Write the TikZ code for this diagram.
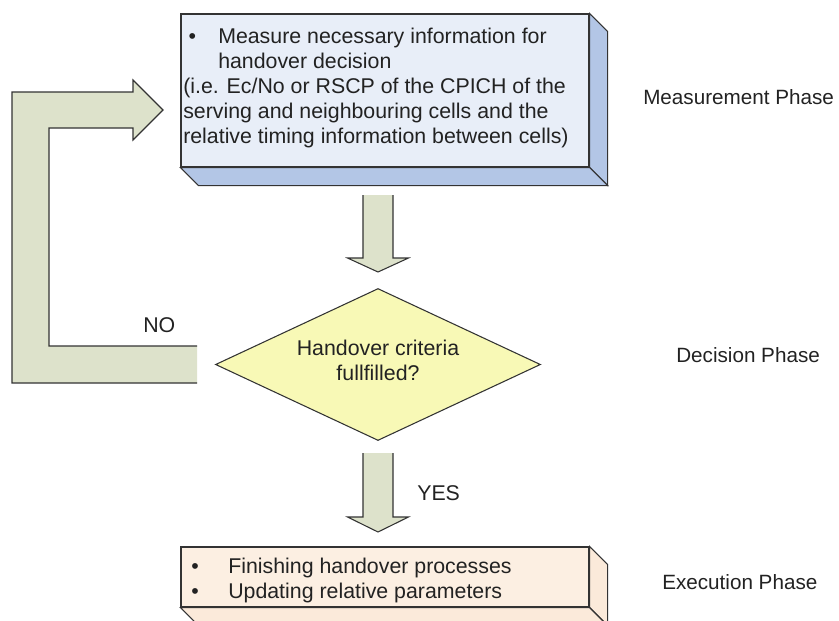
\documentclass[tikz,border=0pt]{standalone}
\usepackage{fontspec}
\setmainfont{Liberation Sans}
\usetikzlibrary{calc,shapes.geometric}

\definecolor{measfront}{HTML}{E8EEF8}
\definecolor{measside}{HTML}{B3C6E6}
\definecolor{execfront}{HTML}{FCEFE2}
\definecolor{execside}{HTML}{FBEADA}
\definecolor{decfill}{HTML}{F8F9B6}
\definecolor{flowfill}{HTML}{DDE2CB}
\definecolor{edgegray}{HTML}{333333}
\definecolor{txt}{HTML}{222222}

\tikzset{
  outline/.style={draw=edgegray, line width=0.8pt, line join=miter},
  frontface/.style={outline, inner sep=0pt, minimum width=306pt},
  flowarrow/.style={fill=flowfill},
  flowedge/.style={draw=edgegray, line width=0.8pt, line join=miter},
  bodytext/.style={text=txt, font=\fontsize{16}{18.75}\selectfont, inner sep=0pt},
  phasetext/.style={text=txt, font=\fontsize{15.5}{18}\selectfont, inner sep=0pt, anchor=base west},
}

% block arrow pointing down: centre x, top y, head base y, tip y
\newcommand\downflow[4]{%
  \fill[flowarrow] (#1-15,#2) -- (#1+15,#2) -- (#1+15,#3) -- (#1+30.5,#3)
    -- (#1,#4) -- (#1-30.5,#3) -- (#1-15,#3) -- cycle;
  \draw[flowedge] (#1+15,#2) -- (#1+15,#3) -- (#1+30.5,#3)
    -- (#1,#4) -- (#1-30.5,#3) -- (#1-15,#3) -- (#1-15,#2);
}

\begin{document}
\begin{tikzpicture}[x=0.75pt,y=-0.75pt]
\useasboundingbox (0,0) rectangle (839,621);
\clip (0,0) rectangle (839,621);

% measurement box (front face plus extruded sides)
\node[frontface, fill=measfront, minimum height=114.75pt] (meas) at (385,90.5) {};
\filldraw[outline, fill=measside] (meas.north east) -- ++(18,18)
  -- ($(meas.south east)+(18,18)$) -- (meas.south east) -- cycle;
\filldraw[outline, fill=measside] (meas.south west) -- ++(18,18)
  -- ($(meas.south east)+(18,18)$) -- (meas.south east) -- cycle;
\node[bodytext, anchor=north west, align=left] (meastext) at (183,27.5)
  {\makebox[26.25pt][l]{\hspace{4pt}\textbullet}Measure necessary information for\\
   \hspace{26.25pt}handover decision\\
   (i.e. Ec/No or RSCP of the CPICH of the\\
   serving and neighbouring cells and the\\
   relative timing information between cells)};

% decision diamond
\node[diamond, draw=edgegray, line width=0.8pt, fill=decfill, inner sep=0pt,
      minimum width=243.75pt, minimum height=114pt, aspect=2.14] (dec) at (378,364.5) {};
\node[bodytext, align=center, anchor=north] (dectext) at (378,339.5)
  {Handover criteria\\fullfilled?};

% execution box
\node[frontface, fill=execfront, minimum height=45pt] (exec) at (385,577) {};
\filldraw[outline, fill=execside] (exec.north east) -- ++(18,18)
  -- ($(exec.south east)+(18,18)$) -- (exec.south east) -- cycle;
\filldraw[outline, fill=execside] (exec.south west) -- ++(18,18)
  -- ($(exec.south east)+(18,18)$) -- (exec.south east) -- cycle;
\node[bodytext, anchor=north west, align=left] (exectext) at (185,558)
  {\makebox[32.25pt][l]{\hspace{4.5pt}\textbullet}Finishing handover processes\\
   \makebox[32.25pt][l]{\hspace{4.5pt}\textbullet}Updating relative parameters};

% forward flow arrows
\downflow{378}{195}{258}{272}
\downflow{378}{453}{517}{532}
\node[bodytext, anchor=base west] (yes) at (417,500) {YES};

% feedback loop back to the measurement step
\coordinate (loopend) at (197,364.5);
\coordinate (looptip) at (163,110);
\fill[flowarrow] (197,346) -- (49,346) -- (49,128) -- (133,128) -- (133,140)
  -- (looptip) -- (133,80) -- (133,92) -- (12,92) -- (12,383) -- (197,383) -- cycle;
\draw[flowedge] (197,346) -- (49,346) -- (49,128) -- (133,128) -- (133,140)
  -- (looptip) -- (133,80) -- (133,92) -- (12,92) -- (12,383) -- (197,383);
\node[bodytext, anchor=base west] (no) at (143,332) {NO};

% phase labels
\node[phasetext] (pmeas) at (643,104) {Measurement Phase};
\node[phasetext] (pdec) at (676,362) {Decision Phase};
\node[phasetext] (pexec) at (662,589) {Execution Phase};
\end{tikzpicture}
\end{document}
